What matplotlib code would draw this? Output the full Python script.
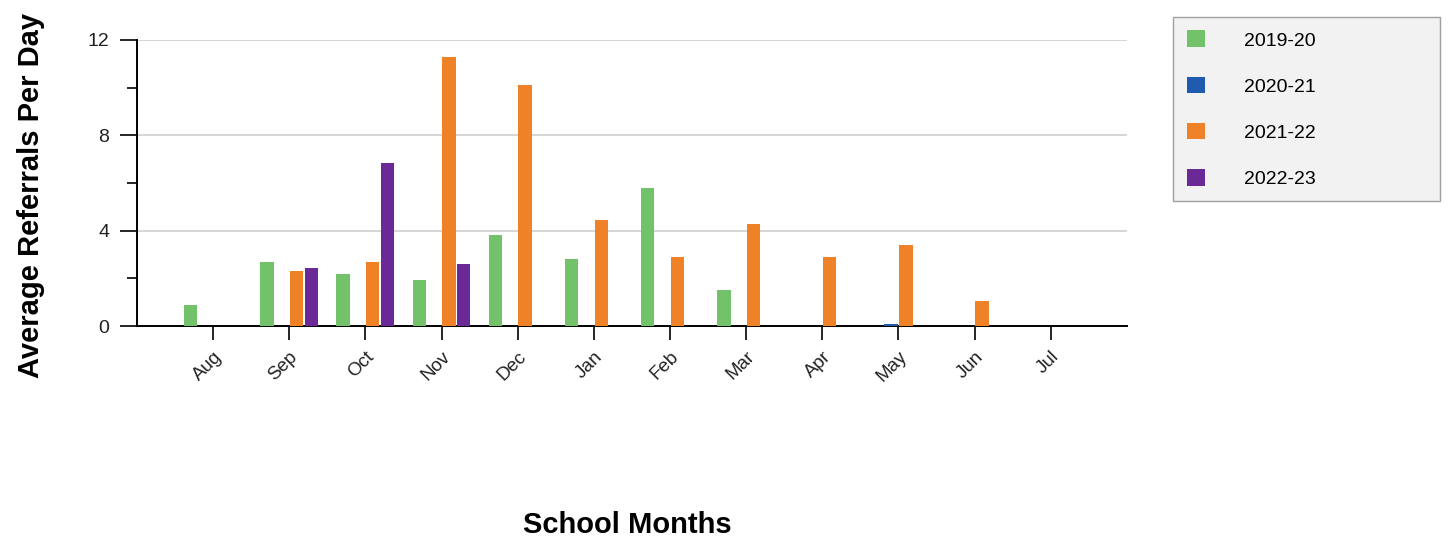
import numpy as np
import matplotlib
matplotlib.use("Agg")
import matplotlib.pyplot as plt
from matplotlib.ticker import MultipleLocator

plt.rcParams["font.family"] = ["Liberation Sans", "DejaVu Sans"]

months = ["Aug", "Sep", "Oct", "Nov", "Dec", "Jan", "Feb", "Mar", "Apr", "May", "Jun", "Jul"]
years = ["2019-20", "2020-21", "2021-22", "2022-23"]

y2019 = [0.9, 2.7, 2.2, 1.95, 3.8, 2.8, 5.8, 1.5, 0, 0, 0, 0]
y2020 = [0, 0, 0, 0, 0, 0, 0, 0, 0, 0.1, 0, 0]
y2021 = [0, 2.32, 2.7, 11.3, 10.1, 4.45, 2.9, 4.27, 2.9, 3.4, 1.07, 0]
y2022 = [0, 2.42, 6.86, 2.6, 0, 0, 0, 0, 0, 0, 0, 0]

colors = {
    "2019-20": "#72c26a",
    "2020-21": "#1f5cb0",
    "2021-22": "#ef8227",
    "2022-23": "#6a2996",
}

fig = plt.figure(figsize=(14.56, 5.44), dpi=100)
ax = fig.add_axes([0.094, 0.4007, 0.680, 0.5258])

x = np.arange(len(months))
slot = 0.195
width = 0.175
for i, (name, vals) in enumerate(zip(years, [y2019, y2020, y2021, y2022])):
    ax.bar(x + (i - 1.5) * slot, vals, width=width, color=colors[name], label=name, zorder=3)

ax.set_xlim(-1, 12)
ax.set_ylim(0, 12)
ax.set_yticks([0, 4, 8, 12])
ax.yaxis.set_minor_locator(MultipleLocator(2))
ax.set_xticks(x)
ax.set_xticklabels(months, rotation=45, ha="right", rotation_mode="anchor", fontsize=13.5, color="#222222")
ax.tick_params(axis="y", labelsize=14, labelcolor="#222222", length=12, width=1.2, pad=8)
ax.tick_params(axis="y", which="minor", length=7, width=1.2)
ax.tick_params(axis="x", length=10, width=1.2, pad=6)

ax.grid(axis="y", color="#d0d0d0", linewidth=1.2, zorder=0)
for s in ["top", "right"]:
    ax.spines[s].set_visible(False)
ax.spines["left"].set_linewidth(1.4)
ax.spines["bottom"].set_linewidth(1.4)

fig.text(0.021, 0.64, "Average Referrals Per Day", fontsize=21, fontweight="bold",
         rotation=90, ha="center", va="center")
fig.text(0.431, 0.035, "School Months", fontsize=21, fontweight="bold", ha="center", va="center")

leg = fig.legend(
    loc="upper left",
    bbox_to_anchor=(0.8056, 0.633, 0.1834, 0.336),
    mode="expand",
    fontsize=14,
    frameon=True,
    fancybox=False,
    framealpha=1,
    facecolor="#f2f2f2",
    edgecolor="#a0a0a0",
    handlelength=0.95,
    handleheight=0.95,
    handletextpad=2.0,
    labelspacing=1.39,
    borderpad=0.7,
    borderaxespad=0,
)
leg.get_frame().set_linewidth(1.0)

fig.savefig("out.png", dpi=100)
